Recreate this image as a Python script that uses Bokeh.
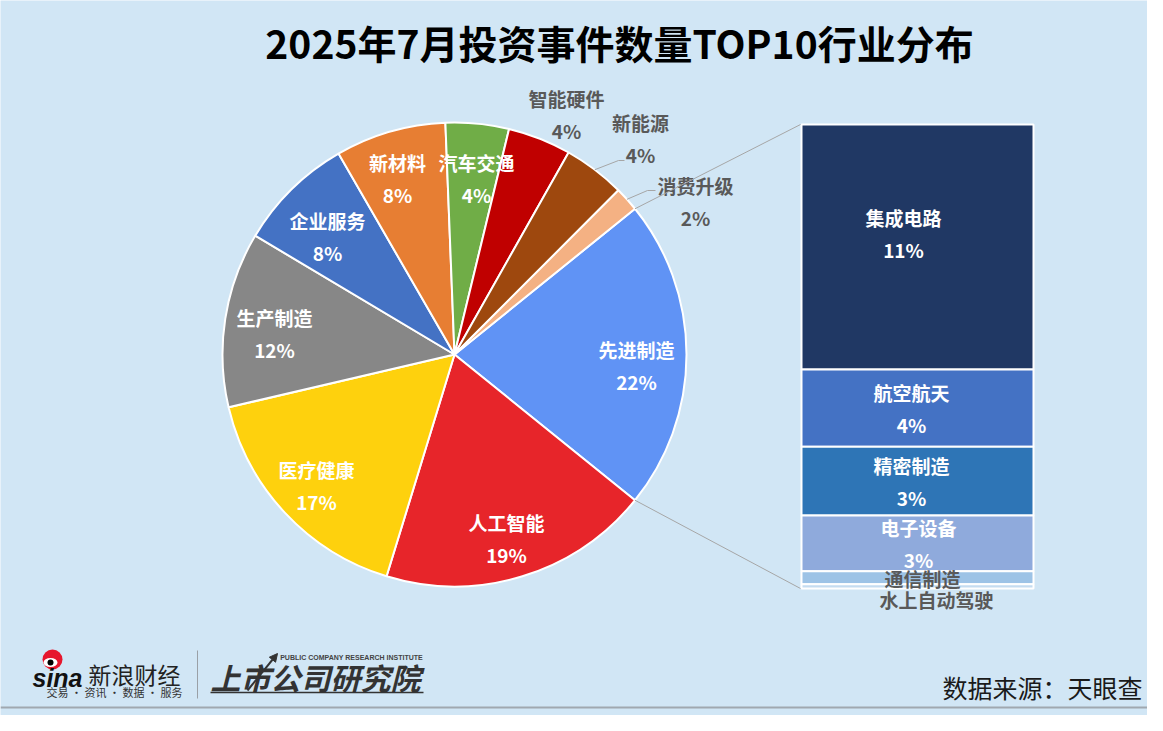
import numpy as np
from bokeh.plotting import figure
from bokeh.models import ColumnDataSource, Range1d, Arrow, NormalHead
from bokeh.core.properties import value
from bokeh.embed import file_html
from bokeh.resources import INLINE

# ---------------- data ----------------
title = "2025年7月投资事件数量TOP10行业分布"
source_note = "数据来源：天眼查"

pie_names = ["先进制造", "人工智能", "医疗健康", "生产制造", "企业服务",
             "新材料", "汽车交通", "智能硬件", "新能源", "消费升级"]
pie_values = [21.6, 18.9, 16.6, 12.2, 8.1, 7.7, 4.4, 4.4, 4.3, 1.7]

bar_names = ["集成电路", "航空航天", "精密制造", "电子设备", "通信制造", "水上自动驾驶"]
bar_values = [11.4, 3.6, 3.2, 2.6, 0.6, 0.2]
bar_show_pct = [True, True, True, True, False, False]

# ---------------- styles / layout ----------------
pie_colors = ["#6093F5", "#E7252A", "#FED10D", "#878787", "#4472C4",
              "#E77E33", "#70AD47", "#C00000", "#9E480E", "#F4B183"]
bar_colors = ["#203864", "#4472C4", "#2E75B6", "#8FAADC", "#9DC3E6", "#C5DCF0"]
BG = "#D1E6F5"
GRAY_TXT = "#595959"
LINE_GRAY = "#A6A6A6"
FONT = "Noto Sans CJK SC"

FW, FH = 1147, 715                 # figure size (fits window with 8px margin)
CX, CY, R = 454, 354, 232          # pie centre / radius (pixel coords)
BAR_L, BAR_R, BAR_T, BAR_B = 801, 1033, 124, 588

# label anchor positions (pixel coords) for pie labels
pie_label_xy = [(636, 365), (506, 538), (316, 485), (274, 333), (327, 236),
                (397, 178), (476, 178), (566, 114), (640, 138), (695, 201)]
pie_label_inside = [True] * 7 + [False] * 3
# leader line elbows for small outside labels (index -> elbow, end)
leaders = {8: ((618, 160), (624, 160)), 9: ((647, 190), (655, 190))}
bar_label_dx = [-14, -6, -6, 1, 5, 19]
bar_label_dy = [-13, 0, 0, 0, 1, 13]


def Y(py):
    return FH - py


p = figure(width=FW, height=FH, x_range=Range1d(0, FW), y_range=Range1d(0, FH),
           output_backend="svg", toolbar_location=None, min_border=0,
           x_axis_type=None, y_axis_type=None)
p.xgrid.visible = False
p.ygrid.visible = False
p.outline_line_color = None
p.background_fill_color = BG
p.border_fill_color = BG


def add_text(xs, ys, texts, size, color, style="bold", align="center", font=FONT, angle=0):
    src = ColumnDataSource(dict(x=list(xs), y=[Y(v) for v in ys], t=list(texts)))
    p.text(x="x", y="y", text="t", source=src, text_font=value(font),
           text_font_size=value(f"{size}px"), text_font_style=style,
           text_color=color, text_align=align, text_baseline="middle", angle=angle)


# ---------------- pie ----------------
vals = np.array(pie_values, dtype=float)
frac = vals / vals.sum()
a0 = frac[0] * np.pi                       # first slice centred on the right
cum = np.concatenate([[0], np.cumsum(frac)])
starts = a0 - 2 * np.pi * cum[:-1]
ends = a0 - 2 * np.pi * cum[1:]
mids = (starts + ends) / 2

pie_src = ColumnDataSource(dict(s=ends, e=starts, c=pie_colors))
p.wedge(x=CX, y=Y(CY), radius=R, start_angle="s", end_angle="e", fill_color="c",
        line_color="white", line_width=2, source=pie_src)

# leader lines
for i, (elbow, end) in leaders.items():
    sx = CX + R * np.cos(mids[i])
    sy = CY - R * np.sin(mids[i])
    p.line([sx, elbow[0], end[0]], [Y(sy), Y(elbow[1]), Y(end[1])],
           line_color=LINE_GRAY, line_width=1)

# pie labels
for i, name in enumerate(pie_names):
    lx, ly = pie_label_xy[i]
    col = "white" if pie_label_inside[i] else GRAY_TXT
    pct = f"{int(round(pie_values[i]))}%"
    add_text([lx, lx], [ly - 16, ly + 16], [name, pct], 19, col)

# ---------------- bar ----------------
bv = np.array(bar_values, dtype=float)
scale = (BAR_B - BAR_T) / bv.sum()
bcum = np.concatenate([[0], np.cumsum(bv)])
tops = BAR_T + bcum[:-1] * scale
bots = BAR_T + bcum[1:] * scale
bar_src = ColumnDataSource(dict(t=[Y(v) for v in tops], b=[Y(v) for v in bots], c=bar_colors))
p.quad(left=BAR_L, right=BAR_R, top="t", bottom="b", fill_color="c",
       line_color="white", line_width=2, source=bar_src)

# connector lines
p.line([CX + R * np.cos(starts[0]), BAR_L - 1], [Y(CY - R * np.sin(starts[0])), Y(BAR_T)],
       line_color=LINE_GRAY, line_width=1)
p.line([CX + R * np.cos(ends[0]), BAR_L - 1], [Y(CY - R * np.sin(ends[0])), Y(BAR_B)],
       line_color=LINE_GRAY, line_width=1)

bcx = (BAR_L + BAR_R) / 2
for i, name in enumerate(bar_names):
    yc = (tops[i] + bots[i]) / 2 + bar_label_dy[i]
    xc = bcx + bar_label_dx[i]
    if bar_show_pct[i]:
        add_text([xc, xc], [yc - 16, yc + 16], [name, f"{int(round(bar_values[i]))}%"], 19, "white")
    else:
        add_text([xc], [yc], [name], 19, GRAY_TXT)

# ---------------- title & source ----------------
add_text([619], [41], [title], 39, "#000000")
add_text([1142], [686], [source_note], 25, "#1A1A1A", style="normal", align="right")

# ---------------- footer / logos ----------------
p.line([0, FW], [Y(707), Y(707)], line_color="#A0A8B0", line_width=2)
# sina eye
p.circle(x=[52], y=[Y(659)], radius=10, fill_color="#E6162D", line_color=None)
p.ellipse(x=[50], y=[Y(662)], width=14, height=9, fill_color="white", line_color=None)
p.circle(x=[50], y=[Y(662)], radius=3, fill_color="black", line_color=None)
add_text([57], [677], ["sina"], 25, "#111111", style="bold italic", font="Liberation Sans")
add_text([134], [673], ["新浪财经"], 23, "#222222", style="normal")
add_text([114], [691], ["交易 · 资讯 · 数据 · 服务"], 11, "#333333", style="normal")
p.line([197, 197], [Y(650), Y(698)], line_color="#9AA0A6", line_width=1)
p.add_layout(Arrow(end=NormalHead(size=8, fill_color="#333333", line_color="#333333"),
                   x_start=247, y_start=Y(690), x_end=277, y_end=Y(653),
                   line_color="#333333", line_width=2))
add_text([315], [676], ["上市公司研究院"], 30, "#333333", style="bold italic")
add_text([351], [657], ["PUBLIC COMPANY RESEARCH INSTITUTE"], 7, "#444444", font="Liberation Sans")
p.line([210, 423], [Y(692), Y(692)], line_color="#333333", line_width=1.5)

open("out.html", "w").write(file_html(p, INLINE))
